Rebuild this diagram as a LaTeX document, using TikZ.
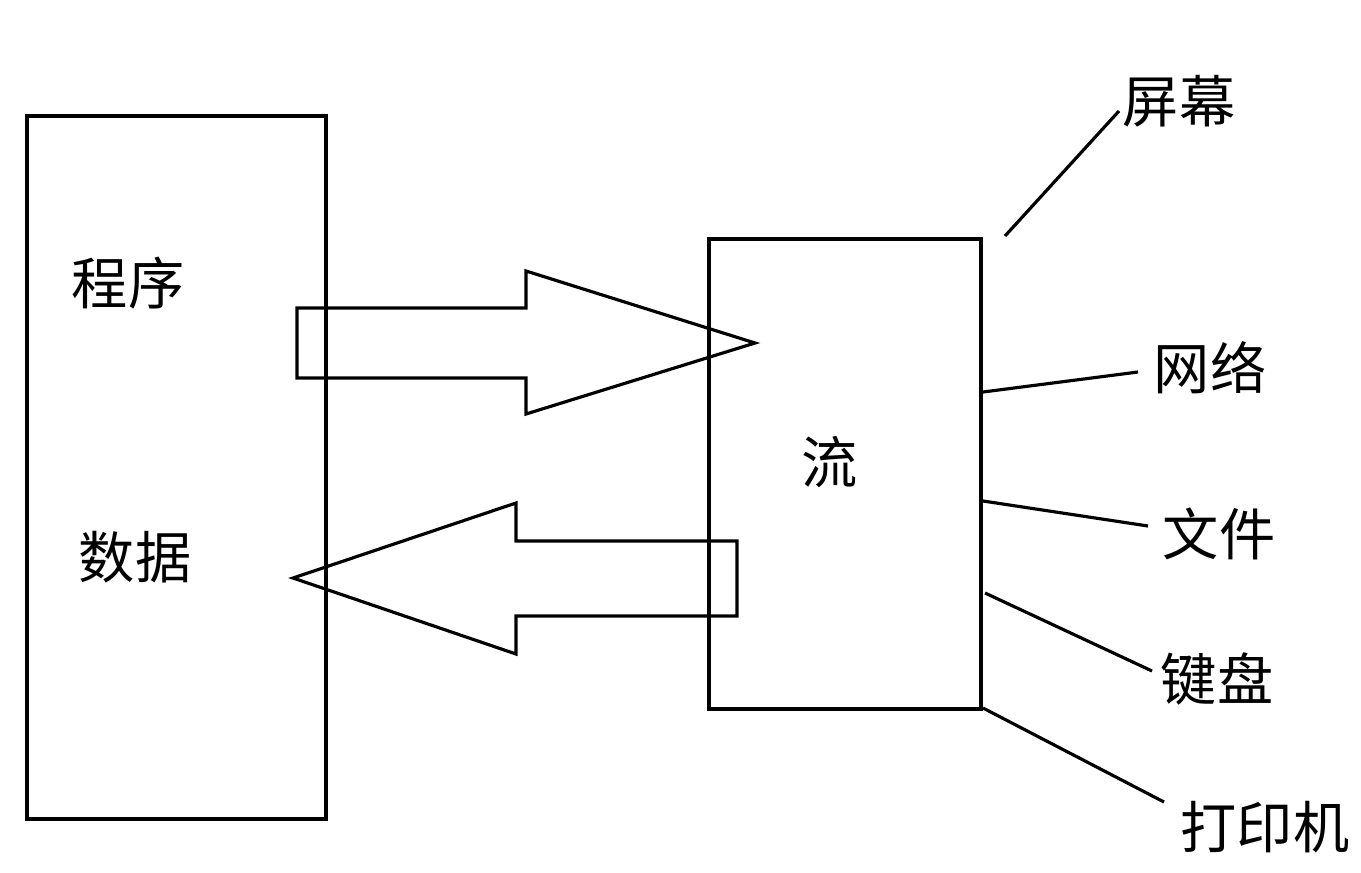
\documentclass[tikz,border=0pt]{standalone}
\usepackage{fontspec}
\setmainfont{Noto Sans CJK SC}
\usepackage{tikz}

\tikzset{
  box/.style={draw, line width=1.8pt, inner sep=0pt},
  lbl/.style={inner sep=0pt, font=\fontsize{32}{38}\selectfont},
  wire/.style={line width=1.8pt},
}

\begin{document}
\begin{tikzpicture}[x=0.02cm, y=-0.02cm, line join=miter]
  \useasboundingbox (0,0) rectangle (1361,872);
  % the two boxes
  \node[box, minimum width=5.98cm, minimum height=14.06cm] (prog) at (176.5,467.5) {};
  \node[box, minimum width=5.44cm, minimum height=9.4cm] (flow) at (845,474) {};
  \node[lbl] (chengxu) at (128,283) {程序};
  \node[lbl] (shuju) at (135,557) {数据};
  \node[lbl] (liu) at (830,462) {流};
  % block arrows between them
  \draw[wire] (297,308) -- (526,308) -- (526,271) -- (755,343)
              -- (526,414) -- (526,378) -- (297,378) -- cycle;
  \draw[wire] (737,541) -- (516,541) -- (516,503) -- (293,578)
              -- (516,654) -- (516,616) -- (737,616) -- cycle;
  % devices on the right
  \node[lbl] (screen) at (1179,101) {屏幕};
  \node[lbl] (net) at (1210,368) {网络};
  \node[lbl] (file) at (1219,534) {文件};
  \node[lbl] (keys) at (1217,679) {键盘};
  \node[lbl] (printer) at (1265,827) {打印机};
  \coordinate (screenA) at (1005,236);
  \coordinate (screenB) at (1119,111);
  \coordinate (netA) at (983,392);
  \coordinate (netB) at (1138,372);
  \coordinate (fileA) at (983,501);
  \coordinate (fileB) at (1148,526);
  \coordinate (keysA) at (985,593);
  \coordinate (keysB) at (1152,671);
  \coordinate (printerA) at (983,708);
  \coordinate (printerB) at (1164,802);
  \foreach \d in {screen,net,file,keys,printer}
    \draw[wire] (\d A) -- (\d B);
\end{tikzpicture}
\end{document}
